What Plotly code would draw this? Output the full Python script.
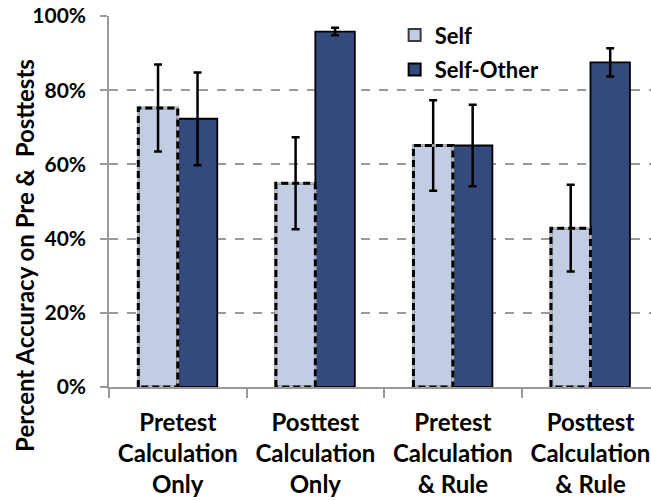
import plotly.graph_objects as go

# Conditions on the x axis (multi-line labels)
conditions = [
    "Pretest<br>Calculation<br>Only",
    "Posttest<br>Calculation<br>Only",
    "Pretest<br>Calculation<br>& Rule",
    "Posttest<br>Calculation<br>& Rule",
]
# Percent accuracy and error-bar half widths per group
self_vals = [75.2, 54.9, 65.1, 42.8]
self_err = [11.7, 12.4, 12.2, 11.7]
selfother_vals = [72.3, 95.8, 65.1, 87.5]
selfother_err = [12.5, 1.0, 11.0, 3.8]
y_ticks = [0, 20, 40, 60, 80, 100]
y_tick_labels = [f"<b>{v}%</b>" for v in y_ticks]

positions = list(range(len(conditions)))
bar_w = 0.287

SELF_FILL = "#c2cce3"
SO_FILL = "#344a7c"
FONT = "Lato"

fig = go.Figure()

fig.add_trace(go.Bar(
    name="<b>Self</b>", x=positions, y=self_vals, legendgroup="a",
    width=bar_w, offset=-bar_w,
    marker=dict(color=SELF_FILL, line=dict(color="#3a3a3a", width=2.5)),
    error_y=dict(type="data", array=self_err, color="black", thickness=2.5, width=4),
))
fig.add_trace(go.Bar(
    name="<b>Self-Other</b>", x=positions, y=selfother_vals, legendgroup="b",
    width=bar_w, offset=0,
    marker=dict(color=SO_FILL, line=dict(color="black", width=1.8)),
    error_y=dict(type="data", array=selfother_err, color="black", thickness=2.5, width=4),
))

# Dashed outline around each "Self" bar (gaps show light grey)
ox, oy = [], []
for p, v in zip(positions, self_vals):
    left, right = p - bar_w, p
    ox += [left, left, right, right, left, None]
    oy += [0, v, v, 0, 0, None]
fig.add_trace(go.Scatter(
    x=ox, y=oy, mode="lines", showlegend=False, hoverinfo="skip",
    line=dict(color="#b4b8c4", width=2.5),
))
fig.add_trace(go.Scatter(
    x=ox, y=oy, mode="lines", showlegend=False, hoverinfo="skip",
    line=dict(color="black", width=3, dash="7px,4px"),
))

fig.update_layout(
    width=651, height=500,
    margin=dict(l=109, r=0, t=16, b=113),
    plot_bgcolor="white", paper_bgcolor="white",
    font=dict(family=FONT, color="black"),
    showlegend=True,
    legend=dict(
        x=0.527, y=1.005, xanchor="left", yanchor="top",
        bgcolor="rgba(0,0,0,0)",
        font=dict(family=FONT, size=22, color="black"),
        itemsizing="constant", tracegroupgap=3,
    ),
    xaxis=dict(
        range=[-0.5, 3.44],
        tickmode="array", tickvals=positions,
        ticktext=[f"<b>{c}</b>".replace("<br>", "</b><br><b>") for c in conditions],
        tickfont=dict(family=FONT, size=24, color="black"),
        ticks="", showgrid=False, zeroline=False,
        showline=True, linecolor="#999999", linewidth=1.5,
        ticklabelstandoff=13,
        minor=dict(
            tickmode="array", tickvals=[-0.5, 0.5, 1.5, 2.5, 3.5],
            ticks="outside", ticklen=9, tickwidth=1.5, tickcolor="#999999",
            showgrid=False,
        ),
    ),
    yaxis=dict(
        range=[0, 100],
        tickmode="array", tickvals=y_ticks, ticktext=y_tick_labels,
        tickfont=dict(family=FONT, size=21, color="black"),
        showgrid=True, gridcolor="#9a9a9a", gridwidth=1.5, griddash="dash",
        zeroline=False,
        showline=True, linecolor="#999999", linewidth=1.5,
        ticks="outside", ticklen=7, tickwidth=1.5, tickcolor="#999999",
        ticklabelstandoff=10,
    ),
    annotations=[dict(
        text="<b>Percent Accuracy on Pre &amp;\u00a0 Posttests</b>",
        xref="paper", yref="paper", x=-0.155, y=0.356,
        xanchor="center", yanchor="middle", textangle=-90, showarrow=False,
        font=dict(family=FONT, size=24, color="black"),
    )],
)

fig.write_html("out.html")
